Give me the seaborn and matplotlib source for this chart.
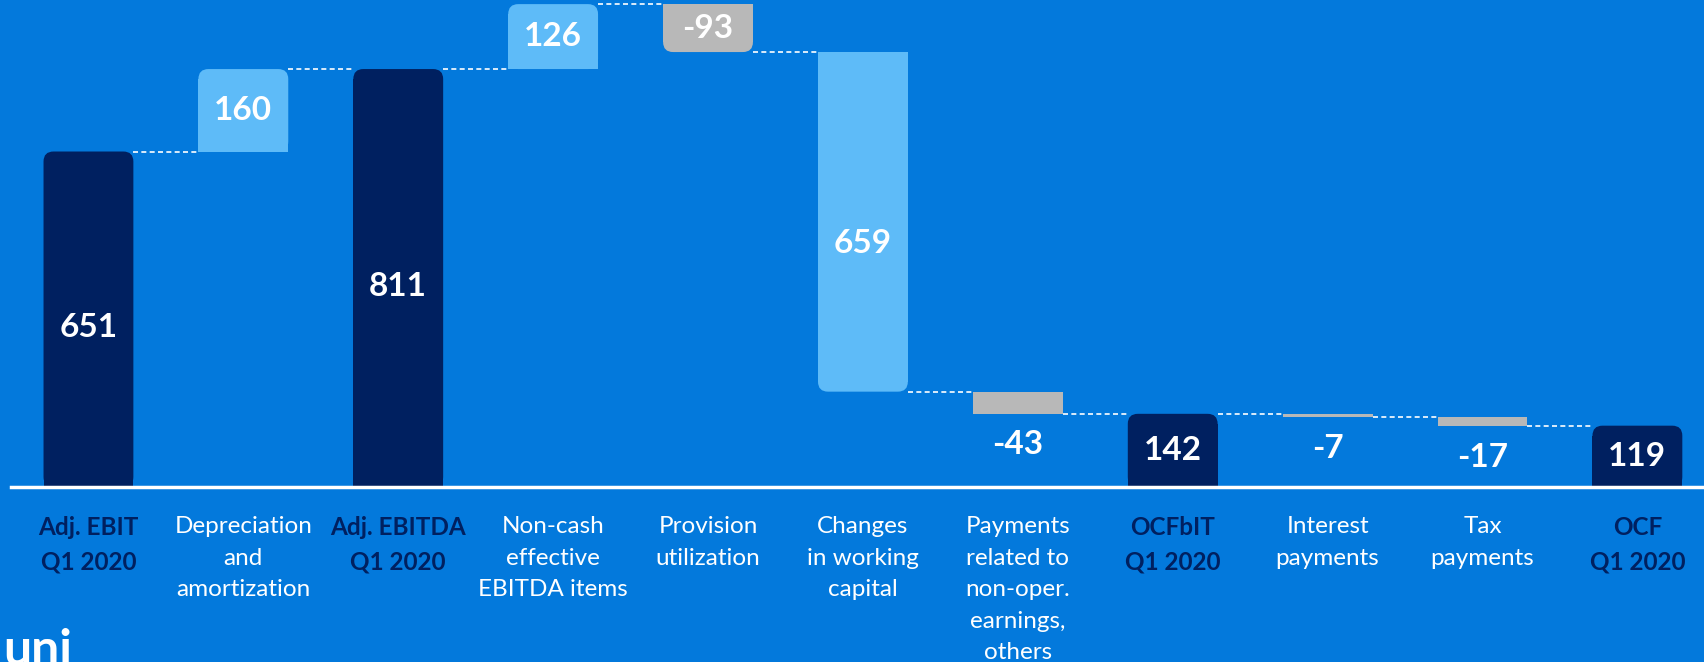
import pandas as pd
import seaborn as sns
import matplotlib.pyplot as plt
from matplotlib.patches import FancyBboxPatch

# =========================
# Data
# =========================
categories = [
    "Adj. EBIT\nQ1 2020",
    "Depreciation\nand\namortization",
    "Adj. EBITDA\nQ1 2020",
    "Non-cash\neffective\nEBITDA items",
    "Provision\nutilization",
    "Changes\nin working\ncapital",
    "Payments\nrelated to\nnon-oper.\nearnings,\nothers",
    "OCFbIT\nQ1 2020",
    "Interest\npayments",
    "Tax\npayments",
    "OCF\nQ1 2020",
]
values = [651, 160, 811, 126, -93, -659, -43, 142, -7, -17, 119]
value_labels = ["651", "160", "811", "126", "-93", "659", "-43", "142", "-7", "-17", "119"]
is_total = [True, False, True, False, False, False, False, True, False, False, True]

# =========================
# Waterfall bottoms / heights
# =========================
bottoms, heights, levels = [], [], []
running = 0
for v, tot in zip(values, is_total):
    if tot:
        bottoms.append(0)
        heights.append(v)
        running = v
    else:
        bottoms.append(min(running, running + v))
        heights.append(abs(v))
        running = running + v
    levels.append(running)

df = pd.DataFrame({"category": categories, "height": heights})

BG = "#0379DC"
NAVY = "#002060"
LIGHT = "#5EBBF8"
GRAY = "#B8B8B8"

def bar_color(v, tot):
    if tot:
        return NAVY
    return LIGHT if (v > 0 or v == -659) else GRAY

colors = [bar_color(v, t) for v, t in zip(values, is_total)]

sns.set_theme(style="white")
plt.rcParams["font.family"] = ["Lato", "DejaVu Sans"]

fig = plt.figure(figsize=(17.04, 6.62), dpi=100, facecolor=BG)
ax = fig.add_axes([11 / 1704, 1 - 487 / 662, 1 - 11 / 1704, 487 / 662])
ax.set_facecolor(BG)

sns.barplot(data=df, x="category", y="height", hue="category", palette=colors,
            legend=False, width=0.58, saturation=1, linewidth=0,
            edgecolor="none", ax=ax)

ymax = 945
ax.set_xlim(-0.5, 10.43)
ax.set_ylim(0, ymax)

# rounded corners: radius in pixels converted to data units
r_px = 10
rx = r_px / (1693 / 10.93)
ry = r_px / (487 / ymax)

patches = list(ax.patches)
for i, p in enumerate(patches):
    x, w = p.get_x(), p.get_width()
    y0, h = bottoms[i], heights[i]
    p.set_y(y0)
    p.set_height(h)
    if h > 3 * ry:
        up = is_total[i] or values[i] > 0
        rnd = FancyBboxPatch((x, y0), w, h,
                             boxstyle=f"round,pad=0,rounding_size={rx}",
                             mutation_aspect=ry / rx, facecolor=colors[i],
                             edgecolor="none", linewidth=0, zorder=p.get_zorder())
        ax.add_patch(rnd)
        if up:
            p.set_height(h - ry)
        else:
            p.set_y(y0 + ry)
            p.set_height(h - ry)

# connectors
for i in range(len(patches) - 1):
    x1 = patches[i].get_x() + patches[i].get_width()
    x2 = patches[i + 1].get_x()
    ax.plot([x1, x2], [levels[i], levels[i]], color="white", lw=1.2,
            ls=(0, (3, 2)), zorder=1)

# value labels
for i, p in enumerate(patches):
    xc = p.get_x() + p.get_width() / 2
    if heights[i] > 60:
        shift = -22 if heights[i] > 600 and not is_total[i] else (-8 if heights[i] > 300 else 0)
        ax.annotate(value_labels[i], (xc, bottoms[i] + heights[i] / 2),
                    xytext=(0, shift * 0.72), textcoords="offset points",
                    ha="center", va="center", color="white", fontsize=24,
                    fontweight="bold")
    else:
        ax.annotate(value_labels[i], (xc, bottoms[i]), xytext=(0, -12),
                    textcoords="offset points", ha="center", va="top",
                    color="white", fontsize=24, fontweight="bold")

# axes styling
ax.set_xlabel("")
ax.set_ylabel("")
ax.set_yticks([])
for s in ["top", "left", "right"]:
    ax.spines[s].set_visible(False)
ax.spines["bottom"].set_color("white")
ax.spines["bottom"].set_linewidth(2.5)
ax.tick_params(axis="x", length=0, pad=21)
ax.set_xticks(range(len(categories)))
ax.set_xticklabels(categories, fontsize=17.5, linespacing=1.62)
for lbl, tot in zip(ax.get_xticklabels(), is_total):
    lbl.set_color(NAVY if tot else "white")
    lbl.set_fontweight("bold" if tot else "normal")
    lbl.set_multialignment("center")

# logo fragment
fig.text(0.002, -0.004, "uni", color="white", fontsize=36, fontweight="bold",
         ha="left", va="baseline")

plt.savefig("out.png", dpi=100, facecolor=BG)
